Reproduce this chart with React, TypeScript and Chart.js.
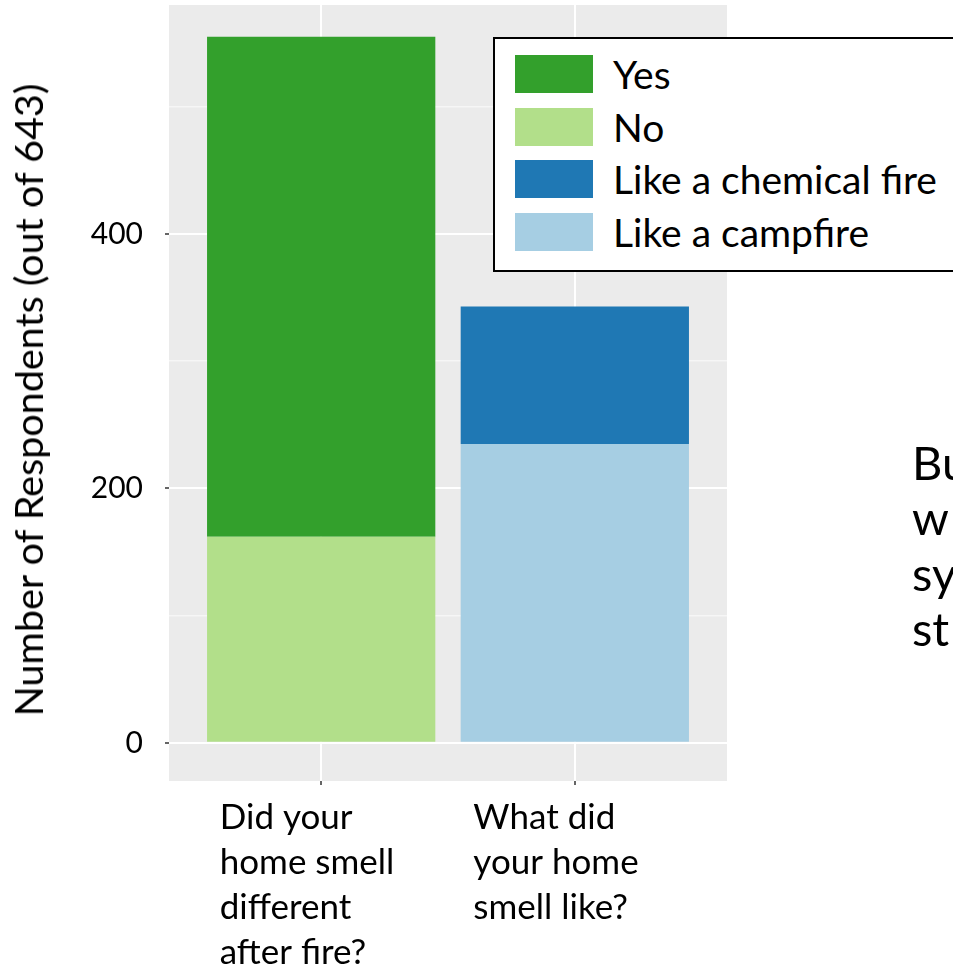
import React, { useEffect, useRef } from 'react';
import { Chart, registerables } from 'chart.js';

Chart.register(...registerables);

// Question categories (one line per array entry)
const categories: string[][] = [
  ['Did your', 'home smell', 'different', 'after fire?'],
  ['What did', 'your home', 'smell like?'],
];

// Respondent counts per category (null where the answer does not apply)
const noValues: (number | null)[] = [162, null];
const yesValues: (number | null)[] = [393, null];
const campfireValues: (number | null)[] = [null, 235];
const chemicalValues: (number | null)[] = [null, 108];

// Y axis ticks: gridlines at every step, labels only on the major ones
const yTicks = [0, 100, 200, 300, 400, 500];
const yMajorTicks = [0, 200, 400];

const yAxisTitle = 'Number of Respondents (out of 643)';
const legendOrder = ['Yes', 'No', 'Like a chemical fire', 'Like a campfire'];
const sideLines = ['Bu', 'w', 'sy', 'st'];

const palette: Record<string, string> = {
  Yes: '#33A02C',
  No: '#B2DF8A',
  'Like a chemical fire': '#1F78B4',
  'Like a campfire': '#A6CEE3',
};

const FONT = 'Lato, "Open Sans", sans-serif';

const toPoints = (vals: (number | null)[]) =>
  vals.map((v, i) => ({ x: i, y: v })).filter((p) => p.y !== null);

// Grey ggplot-style panel behind the plotting area
const panelBackground = {
  id: 'panelBackground',
  beforeDraw(chart: any) {
    const { ctx, chartArea } = chart;
    ctx.save();
    ctx.fillStyle = '#EBEBEB';
    ctx.fillRect(chartArea.left, chartArea.top, chartArea.right - chartArea.left, chartArea.bottom - chartArea.top);
    ctx.restore();
  },
};

export default function App() {
  const canvasRef = useRef<HTMLCanvasElement | null>(null);

  useEffect(() => {
    if (!canvasRef.current) return;
    const isMajor = (v: number) => yMajorTicks.includes(v);
    const chart = new Chart(canvasRef.current, {
      type: 'bar',
      data: {
        datasets: [
          { label: 'No', data: toPoints(noValues), backgroundColor: palette['No'] },
          { label: 'Yes', data: toPoints(yesValues), backgroundColor: palette['Yes'] },
          { label: 'Like a campfire', data: toPoints(campfireValues), backgroundColor: palette['Like a campfire'] },
          { label: 'Like a chemical fire', data: toPoints(chemicalValues), backgroundColor: palette['Like a chemical fire'] },
        ] as any,
      },
      options: {
        animation: false,
        responsive: false,
        maintainAspectRatio: false,
        layout: { padding: { top: 5, right: 226, left: 0, bottom: 0 } },
        datasets: { bar: { categoryPercentage: 0.9, barPercentage: 1 } },
        plugins: { legend: { display: false }, tooltip: { enabled: false } },
        scales: {
          x: {
            type: 'linear',
            stacked: true,
            offset: false,
            min: -0.6,
            max: 1.6,
            weight: 0,
            afterBuildTicks: (s: any) => {
              s.ticks = categories.map((_, i) => ({ value: i }));
            },
            afterFit: (s: any) => {
              s.height = 5;
              s.paddingLeft = 0;
              s.paddingRight = 0;
            },
            ticks: { display: false },
            grid: {
              offset: false,
              color: '#FFFFFF',
              lineWidth: 2,
              tickLength: 4,
              tickColor: '#333333',
              tickWidth: 1.5,
            },
            border: { display: false },
          },
          xl: {
            type: 'linear',
            position: 'bottom',
            offset: false,
            min: -0.6,
            max: 1.6,
            weight: 1,
            afterBuildTicks: (s: any) => {
              s.ticks = categories.map((_, i) => ({ value: i - 0.4 }));
            },
            afterFit: (s: any) => {
              s.height = 181;
              s.paddingLeft = 0;
              s.paddingRight = 0;
            },
            ticks: {
              align: 'start',
              autoSkip: false,
              maxRotation: 0,
              padding: 9,
              color: '#000000',
              font: { family: FONT, size: 35, lineHeight: 45 / 35 },
              callback: (_v: any, i: number) => categories[i],
            },
            grid: { display: false, drawTicks: false, offset: false },
            border: { display: false },
          },
          y: {
            type: 'linear',
            stacked: true,
            min: -30,
            max: 580,
            afterBuildTicks: (s: any) => {
              s.ticks = yTicks.map((v) => ({ value: v }));
            },
            afterFit: (s: any) => {
              s.width = 169;
              s.paddingTop = 0;
              s.paddingBottom = 0;
            },
            ticks: {
              padding: 22,
              color: '#000000',
              font: { family: FONT, size: 30 },
              callback: (v: any) => (isMajor(Number(v)) ? String(v) : ''),
            },
            grid: {
              color: (c: any) => (isMajor(c.tick?.value) ? '#FFFFFF' : '#F6F6F6'),
              lineWidth: (c: any) => (isMajor(c.tick?.value) ? 2 : 1.5),
              tickLength: 4,
              tickWidth: 1.5,
              tickColor: (c: any) => (isMajor(c.tick?.value) ? '#333333' : 'rgba(0,0,0,0)'),
            },
            border: { display: false },
          },
        },
      } as any,
      plugins: [panelBackground],
    });
    return () => chart.destroy();
  }, []);

  return (
    <div
      style={{
        position: 'absolute',
        left: 0,
        top: 0,
        width: 953,
        height: 967,
        overflow: 'hidden',
        background: '#FFFFFF',
        fontFamily: FONT,
        color: '#000000',
      }}
    >
      <canvas ref={canvasRef} width={953} height={967} style={{ position: 'absolute', left: 0, top: 0 }} />

      {/* rotated y axis title */}
      <div
        style={{
          position: 'absolute',
          left: 28,
          top: 400,
          transform: 'translate(-50%, -50%) rotate(-90deg)',
          whiteSpace: 'nowrap',
          fontSize: 39.5,
          lineHeight: '44px',
        }}
      >
        {yAxisTitle}
      </div>

      {/* legend */}
      <div
        style={{
          position: 'absolute',
          left: 493,
          top: 37,
          width: 480,
          height: 235,
          boxSizing: 'border-box',
          border: '2px solid #000000',
          background: '#FFFFFF',
          paddingTop: 16,
          paddingLeft: 20,
        }}
      >
        {legendOrder.map((name) => (
          <div key={name} style={{ display: 'flex', alignItems: 'center', height: 38, marginBottom: 14.67 }}>
            <div style={{ width: 78, height: 38, background: palette[name], flex: 'none' }} />
            <div style={{ marginLeft: 20, fontSize: 39, lineHeight: '38px', whiteSpace: 'nowrap' }}>{name}</div>
          </div>
        ))}
      </div>

      {/* slide text running off the right edge */}
      <div
        style={{
          position: 'absolute',
          left: 912,
          top: 435,
          fontSize: 47,
          lineHeight: '55.3px',
          whiteSpace: 'nowrap',
        }}
      >
        {sideLines.map((t) => (
          <div key={t}>{t}</div>
        ))}
      </div>
    </div>
  );
}
